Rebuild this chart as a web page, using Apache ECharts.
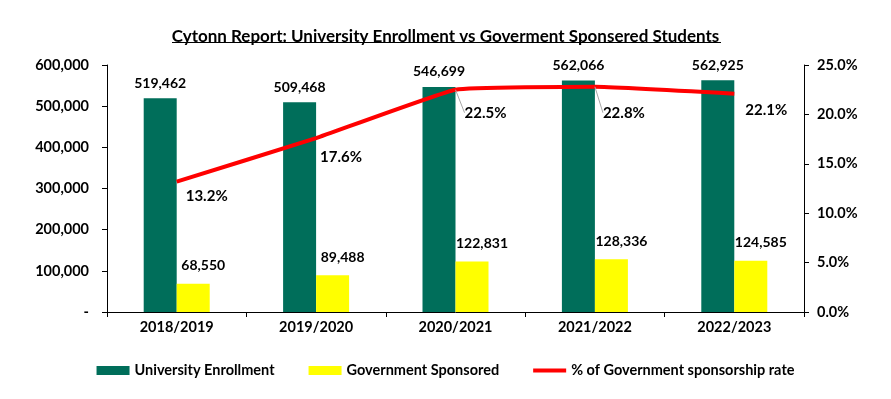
<html>
<head>
<meta charset="utf-8" />
<script src="https://cdn.jsdelivr.net/npm/echarts@6/dist/echarts.min.js"></script>
<style type="text/css">
	html, body, #main {
	width: 100%;
	height: 100%;
	margin: 0;
	background: #fff;
}
</style>
</head>
<body>
	<div id="main"></div>
	<script>
		var years = ['2018/2019', '2019/2020', '2020/2021', '2021/2022', '2022/2023'];
		var enrollment = [519462, 509468, 546699, 562066, 562925];
		var sponsored = [68550, 89488, 122831, 128336, 124585];
		var rate = [13.2, 17.6, 22.5, 22.8, 22.1];
		// label shifts for the rate labels
		var rateLabelShift = [[30, 15], [25, 19], [30, 23], [29, 26], [32, 17]];
		var rateLeader = [false, false, true, true, false];

		var FONT = 'Lato';
		var chart = echarts.init(document.getElementById('main'));

		var fmt = function (v) {
			return v === 0 ? '-' : v.toLocaleString('en-US');
		};
		var axisText = { fontFamily: FONT, fontSize: 14.5, fontWeight: 'bold', color: '#000' };

		var option = {
			animation: false,
			title: {
				text: 'Cytonn Report: University Enrollment vs Goverment Sponsered Students',
				left: 'center',
				top: 23,
				textStyle: { fontFamily: FONT, fontSize: 17, fontWeight: 'bold', color: '#000' }
			},
			graphic: [{
				type: 'line',
				shape: { x1: 172, y1: 42.5, x2: 721, y2: 42.5 },
				style: { stroke: '#000', lineWidth: 1.2 }
			}],
			legend: {
				top: 358,
				left: 'center',
				itemWidth: 33,
				itemHeight: 9,
				itemGap: 34,
				symbolKeepAspect: true,
				textStyle: { fontFamily: FONT, fontSize: 14.5, fontWeight: 'bold', color: '#000' },
				data: [
					{ name: 'University Enrollment', icon: 'rect' },
					{ name: 'Government Sponsored', icon: 'rect' },
					{ name: '% of Government sponsorship rate', icon: 'path://M0,0H33V4H0Z' }
				]
			},
			grid: { left: 107, right: 87, top: 65, bottom: 87 },
			xAxis: {
				type: 'category',
				data: years,
				axisLine: { lineStyle: { color: '#000' } },
				axisTick: { show: true, length: 5, lineStyle: { color: '#000' } },
				axisLabel: Object.assign({ margin: 8 }, axisText)
			},
			yAxis: [{
				type: 'value',
				min: 0, max: 600000, interval: 100000,
				splitLine: { show: false },
				axisLine: { show: true, lineStyle: { color: '#000' } },
				axisTick: { show: true, length: 5, lineStyle: { color: '#000' } },
				axisLabel: Object.assign({ margin: 18, formatter: fmt }, axisText)
			}, {
				type: 'value',
				min: 0, max: 25, interval: 5,
				splitLine: { show: false },
				axisLine: { show: true, lineStyle: { color: '#000' } },
				axisTick: { show: true, length: 5, lineStyle: { color: '#000' } },
				axisLabel: Object.assign({ margin: 13,
					formatter: function (v) { return v.toFixed(1) + '%'; } }, axisText)
			}],
			series: [{
				name: 'University Enrollment',
				type: 'bar',
				data: enrollment,
				barWidth: 33,
				barGap: '0%',
				itemStyle: { color: '#006E5A' },
				label: {
					show: true, position: 'top', distance: 8,
					fontFamily: FONT, fontSize: 14, fontWeight: 'bold', color: '#000',
					formatter: function (p) { return fmt(p.value); }
				}
			}, {
				name: 'Government Sponsored',
				type: 'bar',
				data: sponsored,
				barWidth: 33,
				itemStyle: { color: '#FFFF00' },
				label: {
					show: true, position: 'top', distance: 11, offset: [10, 0],
					fontFamily: FONT, fontSize: 14, fontWeight: 'bold', color: '#000',
					formatter: function (p) { return fmt(p.value); }
				}
			}, {
				name: '% of Government sponsorship rate',
				type: 'line',
				yAxisIndex: 1,
				data: rate.map(function (v, i) {
					return { value: v, labelLine: { show: rateLeader[i] } };
				}),
				smooth: 0.1,
				symbol: 'circle',
				symbolSize: 0.1,
				showSymbol: true,
				lineStyle: { color: '#FF0000', width: 4 },
				itemStyle: { color: '#FF0000' },
				label: {
					show: true, position: 'inside',
					fontFamily: FONT, fontSize: 15, fontWeight: 'bold', color: '#000',
					formatter: function (p) { return p.value.toFixed(1) + '%'; }
				},
				labelLine: { lineStyle: { color: '#A6A6A6', width: 1 } },
				labelLayout: function (p) {
					var s = rateLabelShift[p.dataIndex];
					return { dx: s[0], dy: s[1] };
				}
			}]
		};

		chart.setOption(option);

		window.onresize = function () {
			chart.resize();
		};
	</script>
</body>
</html>
